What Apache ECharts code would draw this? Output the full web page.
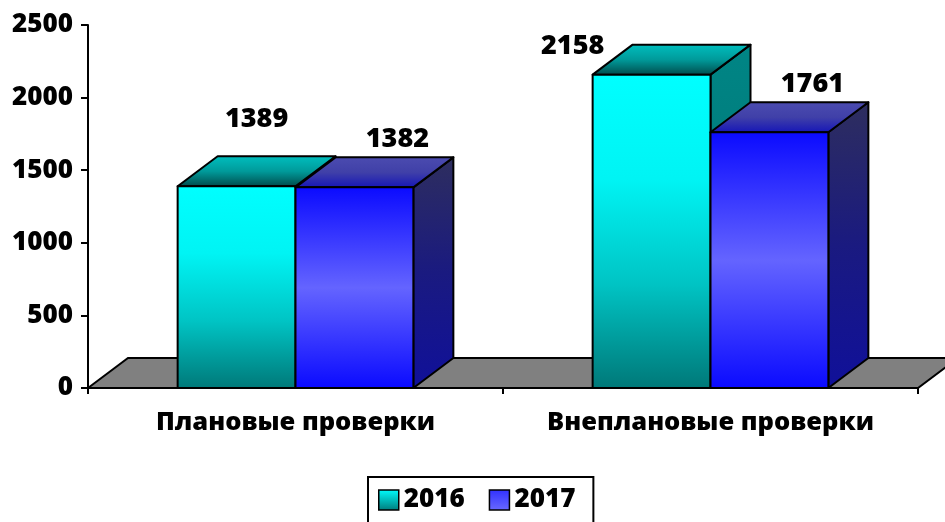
<!DOCTYPE html>
<html>
<head>
<meta charset="utf-8">
<script src="https://cdn.jsdelivr.net/npm/echarts@6/dist/echarts.min.js"></script>
<style>html,body{margin:0;padding:0;background:#fff}#main{width:945px;height:522px}</style>
</head>
<body>
<div id="main"></div>
<script>
var categories = ['Плановые проверки', 'Внеплановые проверки']
var years = ['2016', '2017']
var values2016 = [1389, 2158]
var values2017 = [1382, 1761]
var yTicks = [0, 500, 1000, 1500, 2000, 2500]

var main = document.getElementById('main')
var myChart = echarts.init(main)

// глубина "3d" коробок
var DX = 40, DY = -30
var FONT = '"Open Sans", "Noto Sans", sans-serif'
var WEIGHT = 800

function vgrad (stops) {
  return new echarts.graphic.LinearGradient(0, 0, 0, 1, stops.map(function (c, i) {
    return { offset: i / (stops.length - 1), color: c }
  }))
}

var styles = {
  '2016': {
    front: vgrad(['#00ffff', '#00f4f4', '#00c4c4', '#007878']),
    top: vgrad(['#00c0c0', '#009a9a', '#004848']),
    side: vgrad(['#008585', '#007070']),
    legend: vgrad(['#00ffff', '#007a7a']),
    labelDx: 20, labelDy: -37
  },
  '2017': {
    front: vgrad(['#0a0aff', '#6464ff', '#0a0aff']),
    top: vgrad(['#4c4cb0', '#4040a8', '#1414b8']),
    side: vgrad(['#2e2e5e', '#1a1a80', '#10109a']),
    legend: vgrad(['#3030ff', '#6a6aff']),
    labelDx: 43, labelDy: -18
  }
}

function barRender (slot, st) {
  return function (params, api) {
    var cat = api.value(0)
    var val = api.value(1)
    var base = api.coord([cat, 0])
    var topP = api.coord([cat, val])
    var catW = api.size([1, 0])[0]
    var w = catW * 0.284
    var x0 = base[0] + (slot === 0 ? -w : 0)
    var x1 = x0 + w
    var y0 = base[1]
    var y1 = topP[1]
    var line = { stroke: '#000', lineWidth: 2, lineJoin: 'round' }
    var lx = (x0 + x1) / 2 + st.labelDx
    var ly = y1 + DY + st.labelDy
    if (ly < params.coordSys.y + 20) {
      // не влезает сверху - ставим слева от столбика
      lx = x0 - 20
      ly = y1 + DY + 2
    }
    return {
      type: 'group',
      children: [
        { type: 'polygon', shape: { points: [[x1, y0], [x1 + DX, y0 + DY], [x1 + DX, y1 + DY], [x1, y1]] },
          style: Object.assign({ fill: st.side }, line) },
        { type: 'polygon', shape: { points: [[x0, y1], [x0 + DX, y1 + DY], [x1 + DX, y1 + DY], [x1, y1]] },
          style: Object.assign({ fill: st.top }, line) },
        { type: 'rect', shape: { x: x0, y: y1, width: w, height: y0 - y1 },
          style: Object.assign({ fill: st.front }, line) },
        { type: 'text', x: lx, y: ly,
          style: { text: String(val), fill: '#000', fontSize: 27, fontWeight: WEIGHT, fontFamily: FONT,
            align: 'center', verticalAlign: 'middle' } }
      ]
    }
  }
}

function floorRender (params, api) {
  var cs = params.coordSys
  var y = api.coord([0, 0])[1]
  return {
    type: 'polygon',
    shape: { points: [[cs.x, y], [cs.x + DX, y + DY], [cs.x + cs.width + DX, y + DY], [cs.x + cs.width, y]] },
    style: { fill: '#808080', stroke: '#000', lineWidth: 2 }
  }
}

myChart.setOption({
  animation: false,
  grid: { left: 88, right: 27, top: 25, bottom: 134 },
  legend: {
    data: years,
    left: 368, top: 477,
    icon: 'rect',
    itemWidth: 20, itemHeight: 20, itemGap: 24,
    padding: [10, 18, 20, 10],
    borderColor: '#000', borderWidth: 2,
    itemStyle: { borderColor: '#000', borderWidth: 1.5 },
    textStyle: { fontSize: 26, fontWeight: WEIGHT, color: '#000', fontFamily: FONT }
  },
  xAxis: {
    type: 'category',
    data: categories,
    axisLine: { lineStyle: { color: '#000', width: 2 } },
    axisTick: { show: true, interval: 0, length: 6, lineStyle: { color: '#000', width: 2 } },
    axisLabel: { interval: 0, color: '#000', fontWeight: WEIGHT, fontSize: 25.5, fontFamily: FONT, margin: 22 },
    splitLine: { show: false }
  },
  yAxis: {
    type: 'value',
    min: yTicks[0], max: yTicks[yTicks.length - 1], interval: yTicks[1] - yTicks[0],
    axisLine: { show: true, lineStyle: { color: '#000', width: 2 } },
    axisTick: { show: true, length: 7, lineStyle: { color: '#000', width: 2 } },
    axisLabel: { color: '#000', fontWeight: WEIGHT, fontSize: 26, fontFamily: FONT, margin: 15,
      formatter: function (v) { return String(v) } },
    splitLine: { show: false }
  },
  series: [
    { type: 'custom', name: 'floor', clip: false, silent: true, renderItem: floorRender,
      data: [[0, 0]], encode: { x: 0, y: 1 }, z: 1 },
    { type: 'custom', name: years[0], clip: false, renderItem: barRender(0, styles['2016']),
      itemStyle: { color: styles['2016'].legend },
      data: values2016.map(function (v, i) { return [i, v] }), encode: { x: 0, y: 1 }, z: 2 },
    { type: 'custom', name: years[1], clip: false, renderItem: barRender(1, styles['2017']),
      itemStyle: { color: styles['2017'].legend },
      data: values2017.map(function (v, i) { return [i, v] }), encode: { x: 0, y: 1 }, z: 3 }
  ]
})
</script>
</body>
</html>
